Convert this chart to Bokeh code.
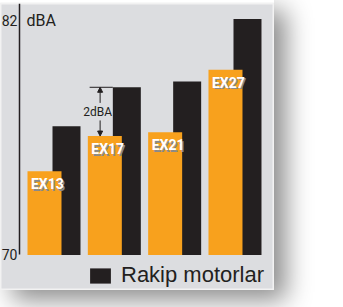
import numpy as np
from bokeh.plotting import figure
from bokeh.models import (ColumnDataSource, Range1d, LinearAxis, FixedTicker,
                          Label, Arrow, NormalHead)
from bokeh.core.properties import value
from bokeh.embed import file_html
from bokeh.resources import INLINE

# ---- data ----
models = ["EX13", "EX17", "EX21", "EX27"]
ex_values = [74.3, 76.1, 76.3, 79.5]        # dBA, orange bars
rival_values = [76.6, 78.6, 78.9, 82.1]     # dBA, black bars (Rakip motorlar)
y_ticks = [70, 82]
unit_label = "dBA"
legend_label = "Rakip motorlar"
gap_label = "2dBA"

ORANGE = "#f8a11d"
DARK = "#231f20"
PANEL = "#dcdde0"
COND = "Roboto"

# layout constants (px-derived, in category units)
ORANGE_W = 0.5636
BLACK_W = 0.464
BLACK_DX = 0.3647
AXIS_X = -0.4144

x = np.arange(len(models), dtype=float)
src = ColumnDataSource(dict(
    model=models, x=x, x_black=x + BLACK_DX, x_text=x - ORANGE_W / 2,
    ex=ex_values, rival=rival_values,
))

p = figure(width=274, height=290,
           x_range=Range1d(-0.7293, 3.8124), y_range=Range1d(68.179, 82.897),
           x_axis_location=None, y_axis_location=None,
           toolbar_location=None, output_backend="svg",
           min_border_left=0, min_border_right=0, min_border_bottom=0, min_border_top=3,
           background_fill_color=PANEL, border_fill_color="white",
           outline_line_color="#f2f2f2", outline_line_width=2)
p.grid.visible = False
p.styles = {"box-shadow": "12px 10px 24px rgba(0,0,0,0.45)"}

black = p.vbar(x="x_black", top="rival", bottom=70, width=BLACK_W, source=src,
               fill_color=DARK, line_color=None, legend_label=legend_label)
p.vbar(x="x", top="ex", bottom=70, width=ORANGE_W, source=src,
       fill_color=ORANGE, line_color=None)

# bar labels with drop shadow
p.text(x="x_text", y="ex", text="model", source=src, x_offset=5, y_offset=6.5,
       text_baseline="top", text_align="left", text_color="#8a8a8a",
       text_font=value(COND), text_font_style="bold", text_font_size="14px")
p.text(x="x_text", y="ex", text="model", source=src, x_offset=3.5, y_offset=5,
       text_baseline="top", text_align="left", text_color="white",
       text_font=value(COND), text_font_style="bold", text_font_size="14px")

# y axis
yaxis = LinearAxis(fixed_location=AXIS_X, ticker=FixedTicker(ticks=y_ticks),
                   bounds=(70, 82.897))
yaxis.axis_line_color = DARK
yaxis.axis_line_width = 1.5
yaxis.major_tick_line_color = None
yaxis.major_tick_out = 0
yaxis.major_tick_in = 0
yaxis.minor_tick_line_color = None
yaxis.minor_tick_out = 0
yaxis.major_label_standoff = 2
yaxis.major_label_text_font = COND
yaxis.major_label_text_font_size = "14px"
yaxis.major_label_text_color = DARK
p.add_layout(yaxis, "left")

p.add_layout(Label(x=AXIS_X, y=82, x_offset=7, text=unit_label, text_baseline="middle",
                   text_font=COND, text_font_size="16px", text_color=DARK))

# 2dBA annotation on the second group
i = 1
mid = (ex_values[i] + rival_values[i]) / 2
p.segment(x0=[x[i] - ORANGE_W / 2 + 0.03], y0=[rival_values[i]],
          x1=[x[i] + BLACK_DX - BLACK_W / 2], y1=[rival_values[i]],
          line_color=DARK, line_width=1)
xa = x[i] - 0.078
p.add_layout(Arrow(x_start=xa, y_start=mid + 0.45, x_end=xa, y_end=rival_values[i],
                   line_color=DARK, line_width=1,
                   end=NormalHead(size=5, fill_color=DARK, line_color=DARK)))
p.add_layout(Arrow(x_start=xa, y_start=mid - 0.45, x_end=xa, y_end=ex_values[i],
                   line_color=DARK, line_width=1,
                   end=NormalHead(size=5, fill_color=DARK, line_color=DARK)))
p.add_layout(Label(x=x[i] - 0.12, y=mid, text=gap_label, text_align="center",
                   text_baseline="middle", text_font=COND, text_font_size="12px",
                   text_color=DARK))

lg = p.legend[0]
lg.location = (87, 2)
lg.background_fill_alpha = 0
lg.border_line_color = None
lg.padding = 0
lg.margin = 0
lg.spacing = 0
lg.glyph_width = 26
lg.glyph_height = 19
lg.label_standoff = 8
lg.label_text_font = "Liberation Sans"
lg.label_text_font_size = "22px"
lg.label_text_color = DARK

open("out.html", "w").write(file_html(p, INLINE))
